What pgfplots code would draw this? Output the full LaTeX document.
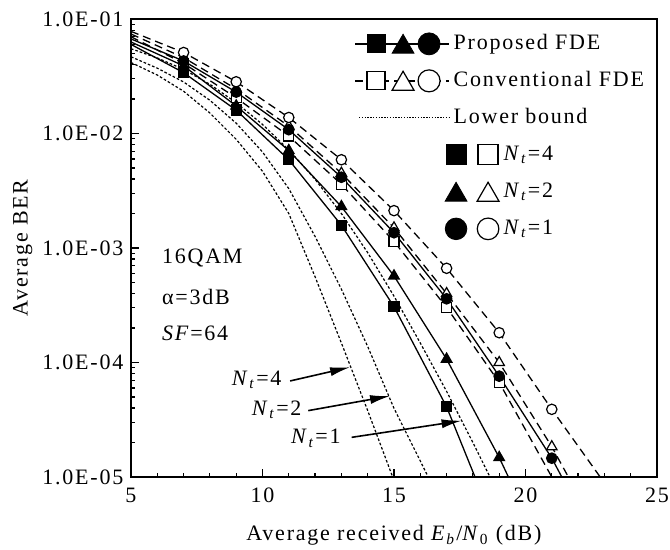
\documentclass[border=0pt]{standalone}
\usepackage{fontspec}
\setmainfont{Liberation Serif}[LetterSpace=8]
\usepackage{pgfplots}
\pgfplotsset{compat=1.18}
\usetikzlibrary{arrows.meta,plotmarks}

\pgfplotsset{
  prop/.style={black, line width=0.65pt, solid},
  conv/.style={black, line width=0.65pt, dash pattern=on 4pt off 2.5pt},
  lb/.style={black, line width=0.6pt, dash pattern=on 1.3pt off 1pt},
}
\newcommand{\Nt}{\textit{N}\textsubscript{\textit{t}}}

\begin{document}
\fontsize{11}{13.2}\selectfont
\begin{tikzpicture}[font=\fontsize{11}{13.2}\selectfont]
\begin{axis}[
  name=ax,
  scale only axis,
  width=263pt, height=229pt,
  xmin=5, xmax=25,
  ymin=1e-5, ymax=1e-1,
  ymode=log,
  xtick={5,10,15,20,25},
  minor x tick num=4,
  ytick={1e-5,1e-4,1e-3,1e-2,1e-1},
  yticklabels={1.0E-05,1.0E-04,1.0E-03,1.0E-02,1.0E-01},
  /pgf/number format/assume math mode=true,
  tick pos=left,
  tick align=inside,
  axis line style={line width=1pt},
  every tick/.style={black, line width=0.6pt},
  major tick length=4pt,
  minor tick length=2pt,
  tick label style={font=\fontsize{11}{13.2}\selectfont},
  xticklabel style={yshift=-1.5pt},
  label style={font=\fontsize{11}{13.2}\selectfont},
  xlabel={Average received \textit{E}\textsubscript{\textit{b}}/\textit{N}\textsubscript{0} (dB)},
  ylabel={Average BER},
  xlabel shift=4pt,
  ylabel shift=-2.5pt,
  legend style={draw=none, fill=none, at={(0.995,0.987)}, anchor=north east,
    row sep=4pt, font=\fontsize{11}{13.2}\selectfont,
    nodes={inner sep=2pt, text height=8pt, text depth=2.5pt}},
  legend cell align=left,
]
% legend
\addlegendimage{legend image code/.code={
  \draw[line width=0.65pt, solid] (0pt,0pt) -- (47pt,0pt);
  \draw[only marks, mark=square*, mark size=4.5pt, fill=black] plot coordinates {(10.5pt,0pt)};
  \draw[only marks, mark=triangle*, mark size=6.3pt, fill=black] plot coordinates {(24pt,-1.5pt)};
  \draw[only marks, mark=*, mark size=5.5pt, fill=black] plot coordinates {(37pt,0pt)};
}}
\addlegendentry{Proposed FDE}
\addlegendimage{legend image code/.code={
  \draw[line width=0.65pt, dash pattern=on 4pt off 2.5pt] (0pt,0pt) -- (47pt,0pt);
  \draw[solid, only marks, mark=square*, mark size=4.5pt, fill=white, line width=0.6pt] plot coordinates {(10.5pt,0pt)};
  \draw[solid, only marks, mark=triangle*, mark size=6.3pt, fill=white, line width=0.6pt] plot coordinates {(24pt,-1.5pt)};
  \draw[solid, only marks, mark=*, mark size=5.5pt, fill=white, line width=0.6pt] plot coordinates {(37pt,0pt)};
}}
\addlegendentry{Conventional FDE}
\addlegendimage{legend image code/.code={
  \draw[line width=0.5pt, dash pattern=on 0.7pt off 0.7pt] (2pt,0pt) -- (47pt,0pt);
}}
\addlegendentry{Lower bound}
\addlegendimage{legend image code/.code={
  \path[draw=none, fill=none] (0pt,0pt) -- (47pt,0pt);
  \draw[overlay, solid, only marks, mark=square*, mark size=5pt, fill=black] plot coordinates {(50.5pt,0pt)};
  \draw[overlay, solid, only marks, mark=square*, mark size=5pt, fill=white, line width=0.6pt] plot coordinates {(66.5pt,0pt)};
}}
\addlegendentry{\hspace{25pt}\Nt=4}
\addlegendimage{legend image code/.code={
  \path[draw=none, fill=none] (0pt,0pt) -- (47pt,0pt);
  \draw[overlay, solid, only marks, mark=triangle*, mark size=6.3pt, fill=black] plot coordinates {(50.5pt,-1.5pt)};
  \draw[overlay, solid, only marks, mark=triangle*, mark size=6.3pt, fill=white, line width=0.6pt] plot coordinates {(66.5pt,-1.5pt)};
}}
\addlegendentry{\hspace{25pt}\Nt=2}
\addlegendimage{legend image code/.code={
  \path[draw=none, fill=none] (0pt,0pt) -- (47pt,0pt);
  \draw[overlay, solid, only marks, mark=*, mark size=5.4pt, fill=black] plot coordinates {(50.5pt,0pt)};
  \draw[overlay, solid, only marks, mark=*, mark size=5.4pt, fill=white, line width=0.6pt] plot coordinates {(66.5pt,0pt)};
}}
\addlegendentry{\hspace{25pt}\Nt=1}

% lower bounds
\addplot[lb, forget plot] coordinates {(5,4.17e-2)(6,3.24e-2)(7,2.34e-2)(8,1.51e-2)(9,8.9e-3)(10,4.68e-3)(11,2.0e-3)(12,5.6e-4)(13,1.48e-4)(14,3.8e-5)(14.95,1e-5)};
\addplot[lb, forget plot] coordinates {(5,4.68e-2)(6,3.72e-2)(7,2.82e-2)(8,1.95e-2)(9,1.23e-2)(10,6.9e-3)(11,3.3e-3)(12,1.26e-3)(13,4.37e-4)(14,1.38e-4)(15,3.98e-5)(16,1.38e-5)(16.3,1e-5)};
\addplot[lb, forget plot] coordinates {(5,5.5e-2)(6,4.57e-2)(7,3.63e-2)(8,2.69e-2)(9,1.86e-2)(10,1.2e-2)(11,7.2e-3)(12,3.98e-3)(13,2.0e-3)(14,9.1e-4)(15,3.8e-4)(16,1.48e-4)(17,5.6e-5)(18,2.0e-5)(18.65,1e-5)};

% conventional FDE
\addplot[conv, forget plot, mark=square*, mark size=2.5pt, mark options={solid, fill=white, line width=0.6pt}, mark indices={2,3,4,5,6,7,8}]
  coordinates {(5,7.0e-2)(7,4.1e-2)(9,2.05e-2)(11,9.5e-3)(13,3.6e-3)(15,1.14e-3)(17,3.03e-4)(19,6.7e-5)(21.0,1e-5)};
\addplot[conv, forget plot, mark=triangle*, mark size=3pt, mark options={solid, fill=white, line width=0.6pt}, mark indices={2,3,4,5,6,7,8,9}]
  coordinates {(5,7.4e-2)(7,4.6e-2)(9,2.45e-2)(11,1.16e-2)(13,4.5e-3)(15,1.5e-3)(17,4.0e-4)(19,1.0e-4)(21,1.84e-5)(21.63,1e-5)};
\addplot[conv, forget plot, mark=*, mark size=2.6pt, mark options={solid, fill=white, line width=0.6pt}, mark indices={2,3,4,5,6,7,8,9}]
  coordinates {(5,7.8e-2)(7,5.1e-2)(9,2.83e-2)(11,1.38e-2)(13,5.9e-3)(15,2.12e-3)(17,6.65e-4)(19,1.82e-4)(21,3.9e-5)(22.84,1e-5)};

% proposed FDE
\addplot[prop, forget plot, mark=*, mark size=2.6pt, mark options={solid, fill=black}, mark indices={2,3,4,5,6,7,8,9}]
  coordinates {(5,6.7e-2)(7,4.3e-2)(9,2.3e-2)(11,1.08e-2)(13,4.15e-3)(15,1.36e-3)(17,3.6e-4)(19,7.6e-5)(21,1.46e-5)(21.38,1e-5)};
\addplot[prop, forget plot, mark=triangle*, mark size=3pt, mark options={solid, fill=black}, mark indices={2,3,4,5,6,7,8}]
  coordinates {(5,6.3e-2)(7,3.9e-2)(9,1.74e-2)(11,7.1e-3)(13,2.3e-3)(15,5.7e-4)(17,1.07e-4)(19,1.48e-5)(19.35,1e-5)};
\addplot[prop, forget plot, mark=square*, mark size=2.5pt, mark options={solid, fill=black}, mark indices={2,3,4,5,6,7}]
  coordinates {(5,6.0e-2)(7,3.4e-2)(9,1.6e-2)(11,5.9e-3)(13,1.58e-3)(15,3.07e-4)(17,4.1e-5)(18.08,1e-5)};

% annotations
\node[anchor=west, inner sep=0pt] at (axis cs:6.17,8.2e-4) {16QAM};
\node[anchor=west, inner sep=0pt] at (axis cs:6.17,3.76e-4) {α=3dB};
\node[anchor=west, inner sep=0pt] at (axis cs:6.17,1.8e-4) {\textit{SF}=64};

\node[inner sep=0pt] at (axis cs:9.78,7.03e-5) {\Nt=4};
\node[inner sep=0pt] at (axis cs:10.54,3.85e-5) {\Nt=2};
\node[inner sep=0pt] at (axis cs:12.03,2.18e-5) {\Nt=1};
\draw[-{Latex[length=10pt,width=4.5pt]}, line width=0.8pt] (axis cs:11.05,6.9e-5) -- (axis cs:13.33,9.1e-5);
\draw[-{Latex[length=10pt,width=4.5pt]}, line width=0.8pt] (axis cs:11.74,3.8e-5) -- (axis cs:14.85,5.1e-5);
\draw[-{Latex[length=10pt,width=4.5pt]}, line width=0.8pt] (axis cs:13.39,2.22e-5) -- (axis cs:17.57,3.1e-5);
\end{axis}
\pgfresetboundingbox
\path ([shift={(-65.5pt,-36.5pt)}]ax.south west) rectangle ([shift={(6.5pt,9.5pt)}]ax.north east);
\end{tikzpicture}
\end{document}
